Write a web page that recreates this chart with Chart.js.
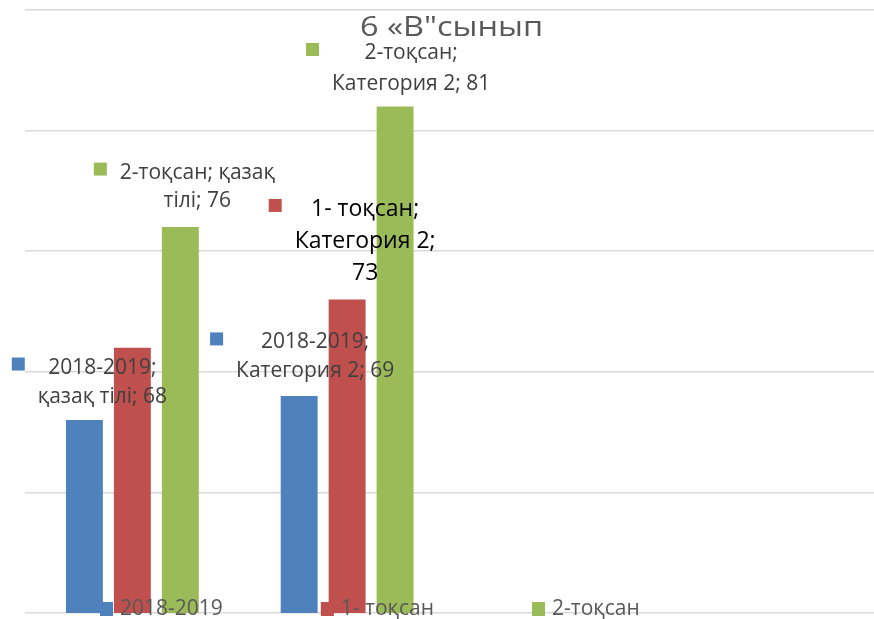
<!DOCTYPE html>
<html>
<head>
<meta charset="utf-8">
<script src="https://cdn.jsdelivr.net/npm/chart.js@4.4.1/dist/chart.umd.min.js"></script>
<style>
    html, body { margin: 0; padding: 0; background: #fff; overflow: hidden; }
    #wrap { width: 884px; height: 619px; position: relative; }
</style>
</head>
<body>
<div id="wrap"><canvas id="chart"></canvas></div>
<script>
// Data
const chartTitle = '6 «В"сынып';
const categories = ['қазақ тілі', 'Категория 2', 'Категория 3', 'Категория 4'];
const seriesNames = ['2018-2019', '1- тоқсан', '2-тоқсан'];
const values2018 = [68, 69, null, null];
const valuesQ1 = [71, 73, null, null];
const valuesQ2 = [76, 81, null, null];
const yMin = 60;
const yMax = 85;
const yStep = 5;

const colors = ['#4F81BD', '#C0504D', '#9BBB59'];
const textFont = '"Open Sans", sans-serif';

// Data label placement (offsets from the bar top, words per line)
const labelLayout = [
    { ds: 0, i: 0, dx: 18, dy: -54, lines: [1, 3], size: 21, lh: 29, color: '#404040' },
    { ds: 2, i: 0, dx: 17, dy: -56, lines: [2, 2], size: 21, lh: 28, color: '#404040' },
    { ds: 0, i: 1, dx: 16, dy: -55, lines: [1, 3], size: 21, lh: 29, color: '#404040' },
    { ds: 1, i: 1, dx: 18, dy: -92, lines: [2, 2, 1], size: 23, lh: 32, color: '#000000' },
    { ds: 2, i: 1, dx: 16, dy: -55, lines: [1, 3], size: 21, lh: 31, color: '#404040' }
];

// Draw text centred on its cap height, with a horizontal stretch
function drawText(ctx, text, x, cy, size, color, align, sx) {
    ctx.save();
    ctx.font = `${size}px ${textFont}`;
    ctx.fillStyle = color;
    ctx.textAlign = 'left';
    ctx.textBaseline = 'alphabetic';
    const w = ctx.measureText(text).width * sx;
    const left = align === 'center' ? x - w / 2 : x;
    ctx.translate(left, cy + size * 0.357);
    ctx.scale(sx, 1);
    ctx.fillText(text, 0, 0);
    ctx.restore();
    return w;
}

const excelText = {
    id: 'excelText',
    afterDraw(chart) {
        const ctx = chart.ctx;
        const area = chart.chartArea;

        // Title
        drawText(ctx, chartTitle, (area.left + area.right) / 2 - 3, 26, 28, '#595959', 'center', 1.16);

        // Data labels
        labelLayout.forEach(l => {
            const bar = chart.getDatasetMeta(l.ds).data[l.i];
            const ds = chart.data.datasets[l.ds];
            const words = `${ds.label}; ${chart.data.labels[l.i]}; ${ds.data[l.i]}`.split(' ');
            let k = 0;
            const lines = l.lines.map(n => {
                const s = words.slice(k, k + n).join(' ');
                k += n;
                return s;
            });
            ctx.font = `${l.size}px ${textFont}`;
            const maxW = Math.max(...lines.map(s => ctx.measureText(s).width));
            const cx = bar.x + l.dx;
            const y1 = bar.y + l.dy;
            ctx.fillStyle = ds.backgroundColor;
            ctx.fillRect(cx - maxW / 2 - 26, y1 - 8.5, 13, 13);
            lines.forEach((s, j) => drawText(ctx, s, cx, y1 + j * l.lh, l.size, l.color, 'center', 1));
        });

        // Legend (drawn over the bars, as in the original)
        let x = 100;
        chart.data.datasets.forEach(ds => {
            ctx.fillStyle = ds.backgroundColor;
            ctx.fillRect(x, 602, 13, 14);
            const w = drawText(ctx, ds.label, x + 20, 608, 21, '#595959', 'left', 1);
            x += 20 + w + 98;
        });
    }
};

const ctx = document.getElementById('chart').getContext('2d');
new Chart(ctx, {
    type: 'bar',
    data: {
        labels: categories,
        datasets: [
            { label: seriesNames[0], data: values2018, backgroundColor: colors[0] },
            { label: seriesNames[1], data: valuesQ1, backgroundColor: colors[1] },
            { label: seriesNames[2], data: valuesQ2, backgroundColor: colors[2] }
        ]
    },
    options: {
        responsive: true,
        maintainAspectRatio: false,
        animation: false,
        layout: { padding: { left: 25, top: 10, right: 0, bottom: 6 } },
        datasets: {
            bar: { categoryPercentage: 0.67, barPercentage: 0.77 }
        },
        plugins: {
            legend: { display: false },
            title: { display: false },
            tooltip: { enabled: false }
        },
        scales: {
            x: { display: false },
            y: {
                min: yMin,
                max: yMax,
                ticks: { display: false, stepSize: yStep },
                border: { display: false },
                grid: { color: '#D9D9D9', lineWidth: 1.5, drawTicks: false }
            }
        }
    },
    plugins: [excelText]
});
</script>
</body>
</html>
